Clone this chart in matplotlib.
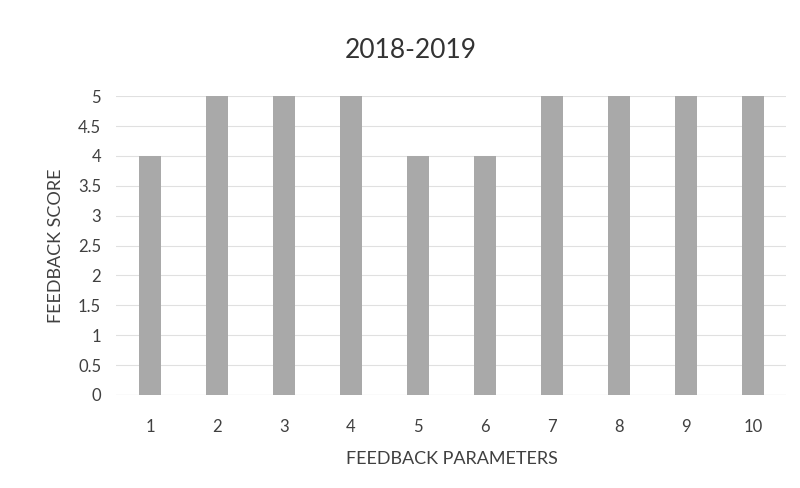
import matplotlib
matplotlib.use("Agg")
import matplotlib.pyplot as plt

categories = ["1", "2", "3", "4", "5", "6", "7", "8", "9", "10"]
scores = [4, 5, 5, 5, 4, 4, 5, 5, 5, 5]
yticks = [0, 0.5, 1, 1.5, 2, 2.5, 3, 3.5, 4, 4.5, 5]
ytick_labels = ["0", "0.5", "1", "1.5", "2", "2.5", "3", "3.5", "4", "4.5", "5"]
title = "2018-2019"
xlabel = "FEEDBACK PARAMETERS"
ylabel = "FEEDBACK SCORE"

plt.rcParams['font.family'] = ['Lato', 'DejaVu Sans']

fig = plt.figure(figsize=(8, 4.88), dpi=100)
ax = fig.add_axes([0.1456, 0.1906, 0.8375, 0.6124])

x = list(range(len(categories)))
ax.bar(x, scores, width=0.32, color="#a9a9a9", zorder=2)

ax.set_xlim(-0.5, len(categories) - 0.5)
ax.set_ylim(0, 5)
ax.set_yticks(yticks)
ax.set_yticklabels(ytick_labels)
ax.set_xticks(x)
ax.set_xticklabels(categories)
ax.tick_params(axis='both', length=0, labelsize=12, colors="#404040")
ax.tick_params(axis='x', pad=17)
ax.tick_params(axis='y', pad=11)
ax.grid(axis='y', color="#e0e0e0", linewidth=0.8, zorder=0)
for s in ax.spines.values():
    s.set_visible(False)
ax.axhline(0, color="#d0d0d0", linewidth=0.8, zorder=1)

fig.text(411 / 800, 1 - 50 / 488, title, fontsize=19, color="#333333",
         ha="center", va="center")
ax.set_xlabel(xlabel, fontsize=13, color="#404040", labelpad=12)
ax.set_ylabel(ylabel, fontsize=13, color="#404040", labelpad=10)

fig.savefig("out.png", dpi=100, facecolor="white")
